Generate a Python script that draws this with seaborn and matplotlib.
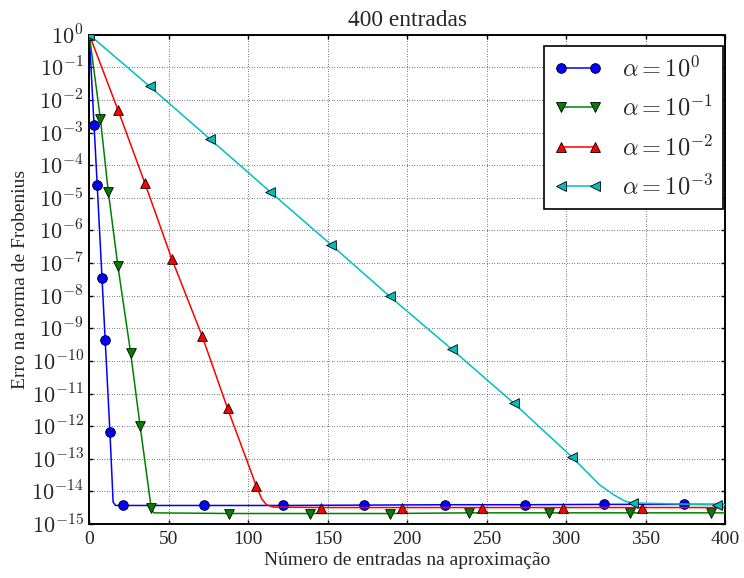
import numpy as np
import pandas as pd
import matplotlib
matplotlib.use("Agg")
import matplotlib.pyplot as plt
from matplotlib.lines import Line2D
from matplotlib.ticker import FuncFormatter, NullLocator
import seaborn as sns

# Frobenius-norm error of the approximation vs. number of entries kept,
# one curve per regularisation weight alpha.
series_labels = [r"$\alpha = 10^{0}$", r"$\alpha = 10^{-1}$",
                 r"$\alpha = 10^{-2}$", r"$\alpha = 10^{-3}$"]
series_colors = ["#0000ff", "#008000", "#ff0000", "#00bfbf"]
series_markers = ["o", "v", "^", "<"]

n_a0 = [0, 3, 5, 8, 10, 13, 15, 16.5, 21, 72, 122, 173, 224, 274, 324, 374, 400]
err_a0 = [1.0, 1.7e-3, 2.4e-5, 3.5e-8, 4.4e-10, 6.5e-13, 4.7e-15, 3.7e-15,
          3.7e-15, 3.7e-15, 3.7e-15, 3.8e-15, 3.9e-15, 3.9e-15, 4.0e-15,
          4.0e-15, 4.0e-15]
mark_a0 = [0, 3, 5, 8, 10, 13, 21, 72, 122, 173, 224, 274, 324, 374]

n_a1 = [0, 7, 12, 18, 26, 32, 39, 40.5, 88, 139, 189, 239, 289, 340, 391, 400]
err_a1 = [1.0, 2.6e-3, 1.5e-5, 8.1e-8, 1.8e-10, 1.0e-12, 3.0e-15, 2.2e-15,
          2.1e-15, 2.1e-15, 2.1e-15, 2.2e-15, 2.2e-15, 2.2e-15, 2.2e-15, 2.2e-15]
mark_a1 = [0, 7, 12, 18, 26, 32, 39, 88, 139, 189, 239, 289, 340, 391]

n_a2 = [0, 18, 35, 52, 71, 87, 105, 108.5, 111.5, 116, 146, 197, 247, 298, 348, 400]
err_a2 = [1.0, 5.0e-3, 2.8e-5, 1.3e-7, 5.8e-10, 3.5e-12, 1.5e-14, 5.9e-15,
          3.9e-15, 3.3e-15, 3.2e-15, 3.2e-15, 3.2e-15, 3.2e-15, 3.2e-15, 3.2e-15]
mark_a2 = [0, 18, 35, 52, 71, 87, 105, 146, 197, 247, 298, 348]

n_a3 = [0, 38, 76, 114, 152, 189, 228, 267, 304, 321, 330, 337, 342, 395, 400]
err_a3 = [1.0, 2.6e-2, 6.3e-4, 1.5e-5, 3.7e-7, 9.5e-9, 2.3e-10, 5.1e-12,
          1.1e-13, 1.6e-14, 7.9e-15, 5.0e-15, 4.4e-15, 3.9e-15, 3.9e-15]
mark_a3 = [0, 38, 76, 114, 152, 189, 228, 267, 304, 342, 395]

x_ticks = [0, 50, 100, 150, 200, 250, 300, 350, 400]
y_decades = list(range(0, -16, -1))

sns.set_theme(style="white")
plt.rcParams["font.family"] = ["Liberation Serif", "DejaVu Serif"]
plt.rcParams["mathtext.fontset"] = "cm"

fig = plt.figure(figsize=(7.44, 5.78), dpi=100)
ax = fig.add_axes([0.1200, 0.0934, 0.8545, 0.8466])

all_n = [n_a0, n_a1, n_a2, n_a3]
all_err = [err_a0, err_a1, err_a2, err_a3]
all_mark = [mark_a0, mark_a1, mark_a2, mark_a3]

MS = 7.0
for i, (n, err, mk) in enumerate(zip(all_n, all_err, all_mark)):
    df = pd.DataFrame({"n": n, "err": err})
    sns.lineplot(data=df, x="n", y="err", color=series_colors[i], lw=1.1,
                 estimator=None, sort=False, ax=ax, zorder=2 + 2 * i)
    dm = df[df["n"].isin(mk)]
    sns.scatterplot(data=dm, x="n", y="err", color=series_colors[i],
                    marker=series_markers[i], s=MS ** 2, edgecolor="black",
                    linewidth=0.6, ax=ax, zorder=3 + 2 * i)

ax.set_yscale("log")
ax.set_xlim(0, 400)
ax.set_ylim(1e-15, 1.0)
ax.set_xticks(x_ticks)
ax.set_yticks([10.0 ** d for d in y_decades])
ax.yaxis.set_minor_locator(NullLocator())
ax.yaxis.set_major_formatter(
    FuncFormatter(lambda v, pos: r"$10^{%d}$" % int(round(np.log10(v)))))

ax.grid(True, which="major", color="black", lw=0.6, linestyle=(0, (0.7, 2.3)))
ax.tick_params(which="major", direction="in", length=3, width=1,
               top=True, right=True, bottom=True, left=True,
               labelsize=14, pad=5, color="black")
ax.tick_params(axis="y", labelsize=16, pad=4)
for sp in ax.spines.values():
    sp.set_color("black")
    sp.set_linewidth(1.4)

ax.set_title("400 entradas", fontsize=16.8, pad=6)
ax.set_xlabel("Número de entradas na aproximação", fontsize=14, labelpad=3)
ax.set_ylabel("Erro na norma de Frobenius", fontsize=14, labelpad=2)

handles = [Line2D([], [], color=series_colors[i], lw=1.1,
                  marker=series_markers[i], markersize=MS,
                  markeredgecolor="black", markeredgewidth=0.6)
           for i in range(4)]
leg = ax.legend(handles, series_labels, loc="upper right",
                bbox_to_anchor=(0.9964, 0.977), borderaxespad=0,
                numpoints=2, fontsize=17.5, handlelength=2.0,
                handletextpad=0.8, borderpad=0.4, labelspacing=0.58,
                fancybox=False, framealpha=1, edgecolor="black")
leg.get_frame().set_linewidth(1.2)

fig.savefig("out.png", dpi=100)
